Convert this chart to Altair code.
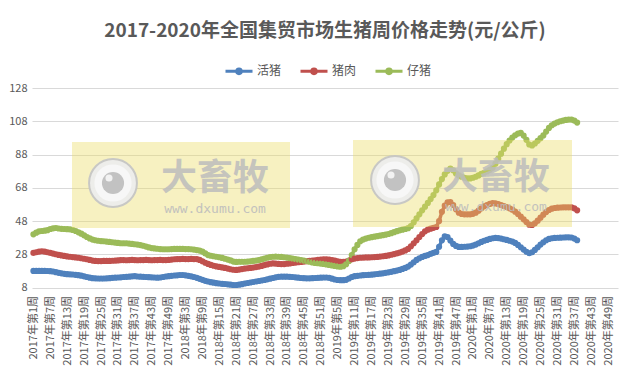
import altair as alt
import pandas as pd

# ---------------- data ----------------
years = [2017, 2018, 2019, 2020]
weeks_per_year = 52
categories = [f"{y}年第{w}周" for y in years for w in range(1, weeks_per_year + 1)]
tick_labels = categories[::6]
y_ticks = [8, 28, 48, 68, 88, 108, 128]

series_names = ["活猪", "猪肉", "仔猪"]
series_colors = ["#4F81BD", "#C0504D", "#9BBB59"]

live_hog = [
    18, 18, 18, 18, 18, 17.9, 17.8, 17.6, 17.2, 16.8,
    16.5, 16.2, 16, 15.9, 15.8, 15.6, 15.4, 15.1, 14.7, 14.3,
    13.9, 13.6, 13.5, 13.4, 13.4, 13.4, 13.5, 13.6, 13.8, 13.9,
    14, 14.1, 14.3, 14.4, 14.5, 14.7, 14.8, 14.6, 14.5, 14.4,
    14.3, 14.2, 14.1, 14, 13.9, 14, 14.3, 14.6, 14.8, 15,
    15.2, 15.3, 15.5, 15.5, 15.3, 15, 14.7, 14.3, 13.8, 13.2,
    12.6, 12, 11.6, 11.2, 10.9, 10.6, 10.4, 10.2, 10.1, 9.9,
    9.7, 9.5, 9.5, 9.7, 10, 10.4, 10.7, 11, 11.3, 11.6,
    11.9, 12.2, 12.5, 12.9, 13.3, 13.7, 14.1, 14.4, 14.5, 14.5,
    14.5, 14.4, 14.3, 14.1, 13.9, 13.7, 13.6, 13.5, 13.5, 13.6,
    13.7, 13.8, 13.9, 14, 14, 13.8, 13.3, 12.8, 12.5, 12.4,
    12.4, 12.6, 13.4, 14.3, 14.8, 15, 15.2, 15.4, 15.5, 15.6,
    15.7, 15.9, 16.1, 16.3, 16.5, 16.8, 17.1, 17.4, 17.8, 18.2,
    18.6, 19.2, 19.8, 20.6, 21.8, 23.2, 24.6, 25.6, 26.4, 27,
    27.5, 28.2, 28.8, 29.4, 32.5, 36.4, 38.8, 38.4, 36.2, 34.2,
    33, 32.4, 32.4, 32.5, 32.6, 32.8, 33.2, 33.8, 34.6, 35.4,
    36.1, 36.6, 37.2, 37.6, 37.8, 37.7, 37.4, 37, 36.6, 36.1,
    35.6, 34.8, 33.6, 32.2, 30.8, 29.5, 28.6, 29.2, 30.6, 32.2,
    33.8, 35.2, 36.4, 37.2, 37.6, 37.8, 37.9, 38, 38.1, 38.2,
    38.2, 38.1, 37.4, 36.4,
]

pork = [
    28.8, 29.2, 29.6, 29.8, 29.6, 29.2, 28.8, 28.4, 28, 27.6,
    27.3, 27, 26.7, 26.5, 26.3, 26.1, 25.9, 25.6, 25.3, 25,
    24.6, 24.2, 24, 23.9, 23.9, 24, 24, 24, 24.1, 24.2,
    24.3, 24.5, 24.5, 24.4, 24.5, 24.6, 24.5, 24.4, 24.5, 24.5,
    24.6, 24.5, 24.4, 24.5, 24.5, 24.6, 24.5, 24.5, 24.6, 24.8,
    25, 25.1, 25.1, 25.2, 25.1, 25.1, 25.2, 25.1, 25.1, 24.6,
    23.8, 22.9, 22.2, 21.6, 21.1, 20.7, 20.4, 20.1, 19.8, 19.4,
    19, 18.7, 18.6, 18.8, 19.1, 19.4, 19.6, 19.8, 20, 20.3,
    20.6, 21, 21.5, 21.9, 22.3, 22.5, 22.4, 22.2, 22.1, 22.1,
    22.3, 22.5, 22.8, 23, 23.2, 23.4, 23.6, 23.8, 24, 24.2,
    24.4, 24.6, 24.8, 25, 25, 24.8, 24.5, 24.2, 23.8, 23.5,
    23.4, 23.6, 24.2, 25, 25.4, 25.7, 25.9, 26, 26.1, 26.1,
    26.2, 26.3, 26.4, 26.6, 26.8, 27, 27.3, 27.7, 28.1, 28.5,
    29, 29.6, 30.3, 31.2, 32.8, 34.6, 36.4, 38.4, 40.2, 41.8,
    42.8, 43.4, 43.9, 44.4, 48, 53.5, 57.2, 59.2, 59.4, 57.6,
    55, 53, 52.2, 52, 52, 52, 52.3, 53, 54.2, 55.6,
    56.8, 57.6, 58.3, 58.8, 58.6, 58.2, 57.6, 57, 56.4, 55.6,
    54.8, 53.6, 52.2, 50.6, 49, 47.4, 45.8, 45.6, 46.6, 48.2,
    50, 51.8, 53.4, 54.6, 55.4, 55.8, 56, 56.1, 56.2, 56.2,
    56.2, 56.2, 55.6, 54.4,
]

piglet = [
    40, 41, 41.8, 42, 42.2, 42.5, 43.2, 43.6, 43.8, 43.5,
    43.3, 43.2, 43.1, 43, 42.6, 42, 41.2, 40.4, 39.4, 38.4,
    37.5, 36.8, 36.4, 36.1, 35.9, 35.8, 35.6, 35.4, 35.2, 35,
    34.8, 34.6, 34.6, 34.6, 34.4, 34.2, 34, 33.8, 33.5, 33.1,
    32.6, 32.1, 31.7, 31.5, 31.3, 31.1, 31, 31, 31, 31.1,
    31.2, 31.2, 31.2, 31.2, 31.1, 31.1, 31, 30.8, 30.5, 30.2,
    29.6, 28.5, 27.5, 27.1, 26.8, 26.5, 26.2, 25.8, 25.3, 24.8,
    24.3, 23.6, 23.4, 23.5, 23.5, 23.5, 23.6, 23.8, 24, 24.2,
    24.5, 24.9, 25.4, 25.9, 26.3, 26.5, 26.6, 26.5, 26.4, 26.2,
    26, 25.7, 25.4, 25.1, 24.8, 24.5, 24.2, 23.9, 23.5, 23.1,
    22.8, 22.6, 22.4, 22.2, 21.9, 21.6, 21.3, 21, 20.7, 20.5,
    20.8, 22, 24, 27.5, 31, 33.6, 35.8, 36.8, 37.4, 37.9,
    38.3, 38.6, 38.9, 39.2, 39.5, 39.8, 40.2, 40.7, 41.3, 41.9,
    42.4, 42.8, 43.2, 43.7, 45, 47.2, 49.6, 52, 54.4, 56.6,
    58.9, 61.2, 63.6, 66.5, 70, 73.2, 76, 78.2, 79.5, 78.5,
    76.6, 75.4, 74.6, 74, 73.6, 73.6, 74, 74.6, 75.4, 76.3,
    77, 77.8, 78.8, 80, 82.5, 85.5, 88.5, 91.5, 94.2, 96.4,
    98.2, 99.6, 100.6, 101, 99.4, 96.8, 94, 93.4, 94.6, 96.2,
    97.8, 99.5, 101.8, 104, 105.6, 106.6, 107.4, 108, 108.4, 108.8,
    109, 109, 108.4, 107.2,
]

title_text = "2017-2020年全国集贸市场生猪周价格走势(元/公斤)"

# watermark decoration (pixel positions inside the plot area)
wm_box_x = [40, 321]
wm_box_x2 = [258, 540]
wm_box_y = [54, 52]
wm_box_y2 = [140, 139]
wm_logo_x = [81, 363]
wm_logo_y = [95, 92]
wm_brand_x = [183, 464]
wm_brand_y = [91, 90]
wm_url_y = [121, 119]

# ---------------- build ----------------
rows = []
for name, vals in zip(series_names, [live_hog, pork, piglet]):
    for i, v in enumerate(vals):
        rows.append({"week": categories[i], "idx": i, "series": name, "price": v})
df = pd.DataFrame(rows)

wm = pd.DataFrame({
    "bx": wm_box_x, "bx2": wm_box_x2, "by": wm_box_y, "by2": wm_box_y2,
    "lx": wm_logo_x, "ly": wm_logo_y,
    "tx": wm_brand_x, "ty": wm_brand_y, "uy": wm_url_y,
})

FONT = "Noto Sans CJK SC"
GRAY = "#595959"

legend_symbol = (
    "M-1,0L1,0"
    "M-0.17,0A0.17,0.17,0,1,1,0.17,0A0.17,0.17,0,1,1,-0.17,0"
    "M-0.06,0A0.06,0.06,0,1,1,0.06,0A0.06,0.06,0,1,1,-0.06,0"
)

lines = alt.Chart(df).mark_line(
    strokeWidth=3.5,
    point=alt.OverlayMarkDef(filled=True, size=38, opacity=1),
).encode(
    x=alt.X(
        "week:N",
        scale=alt.Scale(domain=categories, padding=0.5),
        axis=alt.Axis(
            values=tick_labels, labelAngle=-90, title=None, labelPadding=8,
            labelOverlap=False, grid=False, domain=False, ticks=False,
            labelFontSize=11,
        ),
    ),
    y=alt.Y(
        "price:Q",
        scale=alt.Scale(domain=[8, 128], nice=False, zero=False),
        axis=alt.Axis(
            values=y_ticks, title=None, grid=True, domain=False, ticks=False,
            labelPadding=5, labelFontSize=11,
        ),
    ),
    color=alt.Color(
        "series:N",
        scale=alt.Scale(domain=series_names, range=series_colors),
        legend=alt.Legend(
            title=None, orient="none", legendX=192, legendY=-32,
            direction="horizontal", symbolType=legend_symbol, symbolSize=729,
            symbolStrokeWidth=3, labelFontSize=12, labelFont=FONT,
            labelColor=GRAY, columnPadding=12, labelOffset=3,
        ),
    ),
    order=alt.Order("idx:Q"),
)

wx = alt.X("bx:Q", scale=None)
wy = alt.Y("by:Q", scale=None)
box = alt.Chart(wm).mark_rect(color="#ECDC64", opacity=0.4).encode(
    x=wx, x2="bx2:Q", y=wy, y2="by2:Q"
)

lxy = dict(x=alt.X("lx:Q", scale=None), y=alt.Y("ly:Q", scale=None))
logo_outer = alt.Chart(wm).mark_point(
    shape="circle", filled=True, fill="#EDEDED", stroke="#C6C6C6",
    strokeWidth=2, size=2290, opacity=0.95,
).encode(**lxy)
logo_mid = alt.Chart(wm).mark_point(
    shape="circle", filled=True, fill="#F7F7F7", size=1385, opacity=1, strokeWidth=0,
).encode(**lxy)
logo_disk = alt.Chart(wm).mark_point(
    shape="circle", filled=True, fill="#C2C2C2", size=491, opacity=1, strokeWidth=0,
).encode(**lxy)
logo_hi = alt.Chart(wm).mark_point(
    shape="circle", filled=True, fill="#F2F2F2", size=50, opacity=1,
    strokeWidth=0, xOffset=-4, yOffset=-5,
).encode(**lxy)

brand = alt.Chart(wm).mark_text(
    text="大畜牧", font=FONT, fontSize=36, fontWeight="bold",
    color="#BDBDBD", opacity=0.85, align="center", baseline="middle",
).encode(x=alt.X("tx:Q", scale=None), y=alt.Y("ty:Q", scale=None))

url = alt.Chart(wm).mark_text(
    text="www.dxumu.com", font="DejaVu Sans Mono", fontSize=13,
    color="#BDBDBD", opacity=0.9, align="center", baseline="middle",
).encode(x=alt.X("tx:Q", scale=None), y=alt.Y("uy:Q", scale=None))

chart = alt.layer(
    lines, box, logo_outer, logo_mid, logo_disk, logo_hi, brand, url
).resolve_scale(
    x="independent", y="independent"
).properties(
    width=586,
    height=199.5,
    autosize=alt.AutoSizeParams(type="none"),
    padding={"left": 24, "top": 80, "right": 6, "bottom": 78},
    title=alt.Title(
        title_text, font=FONT, fontSize=19, fontWeight="bold",
        color=GRAY, anchor="middle", offset=15,
    ),
).configure_view(
    stroke=None
).configure_axis(
    labelFont=FONT, labelColor=GRAY, gridColor="#D9D9D9", gridWidth=1,
)

chart.save("out.html", embed_options={"renderer": "svg", "actions": False})
